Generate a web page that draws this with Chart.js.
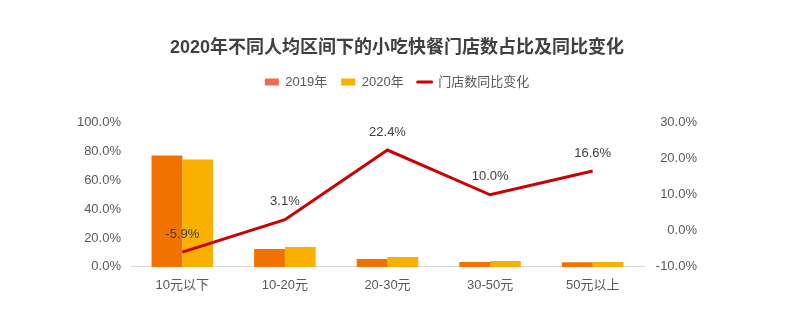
<!DOCTYPE html>
<html>
<head>
<meta charset="utf-8">
<script src="https://cdn.jsdelivr.net/npm/chart.js@4/dist/chart.umd.min.js"></script>
<style>
  html, body { margin: 0; padding: 0; background: #ffffff; }
  #wrap { width: 789px; height: 322px; }
</style>
</head>
<body>
<div id="wrap"><canvas id="chart"></canvas></div>
<script>
'use strict';

// Data
var categories = ['10元以下', '10-20元', '20-30元', '30-50元', '50元以上'];
var share2019 = [77.2, 12.4, 5.5, 3.4, 3.3];
var share2020 = [74.5, 13.8, 6.9, 4.1, 3.4];
var storeChange = [-5.9, 3.1, 22.4, 10.0, 16.6];
var leftTicks = [0, 20, 40, 60, 80, 100];
var rightTicks = [-10, 0, 10, 20, 30];

var fontFamily = "'Liberation Sans', 'Noto Sans CJK SC', sans-serif";

// Draws the value above each point of the line series
var lineLabels = {
    id: 'lineLabels',
    afterDatasetsDraw: function (chart) {
        var ctx = chart.ctx;
        var meta = chart.getDatasetMeta(2);
        ctx.save();
        ctx.font = '13px ' + fontFamily;
        ctx.fillStyle = '#404040';
        ctx.textAlign = 'center';
        ctx.textBaseline = 'middle';
        meta.data.forEach(function (pt, i) {
            ctx.fillText(storeChange[i].toFixed(1) + '%', pt.x, pt.y - 18);
        });
        ctx.restore();
    }
};

// Leaves some extra room under the legend, like the original
var legendGap = {
    id: 'legendGap',
    beforeInit: function (chart) {
        var fit = chart.legend.fit;
        chart.legend.fit = function () {
            fit.call(this);
            this.height += 24;
        };
    },
    // right axis labels are right aligned a bit inside the right margin
    afterLayout: function (chart) {
        var s = chart.scales.y1;
        s.right = s.left + 53;
    }
};

var ctx = document.getElementById('chart').getContext('2d');
var chart = new Chart(ctx, {
    type: 'bar',
    data: {
        labels: categories,
        datasets: [{
            label: '2019年',
            data: share2019,
            backgroundColor: '#F07300',
            yAxisID: 'y',
            order: 2
        }, {
            label: '2020年',
            data: share2020,
            backgroundColor: '#F9B000',
            yAxisID: 'y',
            order: 2
        }, {
            type: 'line',
            label: '门店数同比变化',
            data: storeChange,
            borderColor: '#CC0000',
            backgroundColor: '#CC0000',
            borderWidth: 3,
            pointRadius: 0,
            tension: 0,
            yAxisID: 'y1',
            order: 1
        }]
    },
    options: {
        responsive: true,
        maintainAspectRatio: false,
        animation: false,
        layout: {
            padding: { left: 70, right: 65, top: 0, bottom: 25.5 }
        },
        datasets: {
            bar: { categoryPercentage: 0.6, barPercentage: 1.0 }
        },
        plugins: {
            title: {
                display: true,
                text: '2020年不同人均区间下的小吃快餐门店数占比及同比变化',
                color: '#404040',
                font: { family: fontFamily, size: 18, weight: 'bold' },
                padding: { top: 37, bottom: 3 }
            },
            legend: {
                display: true,
                position: 'top',
                labels: {
                    color: '#595959',
                    font: { family: fontFamily, size: 13 },
                    usePointStyle: true,
                    pointStyleWidth: 14,
                    boxHeight: 7,
                    padding: 14,
                    generateLabels: function () {
                        return [
                            { text: '2019年', fillStyle: '#F26A4F', strokeStyle: '#F26A4F', lineWidth: 0, pointStyle: 'rect', datasetIndex: 0, fontColor: '#595959' },
                            { text: '2020年', fillStyle: '#F9B000', strokeStyle: '#F9B000', lineWidth: 0, pointStyle: 'rect', datasetIndex: 1, fontColor: '#595959' },
                            { text: '门店数同比变化', fillStyle: '#CC0000', strokeStyle: '#CC0000', lineWidth: 3, lineCap: 'round', pointStyle: 'line', datasetIndex: 2, fontColor: '#595959' }
                        ];
                    }
                }
            },
            tooltip: { enabled: false }
        },
        scales: {
            x: {
                grid: { display: false },
                border: { display: true, color: '#D9D9D9', width: 1 },
                ticks: {
                    color: '#595959',
                    font: { family: fontFamily, size: 13 },
                    padding: 3
                }
            },
            y: {
                position: 'left',
                min: 0,
                max: 100,
                afterBuildTicks: function (axis) {
                    axis.ticks = leftTicks.map(function (v) { return { value: v }; });
                },
                afterFit: function (axis) {
                    axis.width = 61;
                },
                grid: { display: false },
                border: { display: false },
                ticks: {
                    color: '#595959',
                    font: { family: fontFamily, size: 13 },
                    padding: 2,
                    callback: function (v) { return v.toFixed(1) + '%'; }
                }
            },
            y1: {
                position: 'right',
                min: -10,
                max: 30,
                afterBuildTicks: function (axis) {
                    axis.ticks = rightTicks.map(function (v) { return { value: v }; });
                },
                afterFit: function (axis) {
                    axis.width = 80;
                },
                grid: { display: false },
                border: { display: false },
                ticks: {
                    color: '#595959',
                    font: { family: fontFamily, size: 13 },
                    padding: 8,
                    crossAlign: 'far',
                    callback: function (v) { return v.toFixed(1) + '%'; }
                }
            }
        }
    },
    plugins: [lineLabels, legendGap]
});
</script>
</body>
</html>
